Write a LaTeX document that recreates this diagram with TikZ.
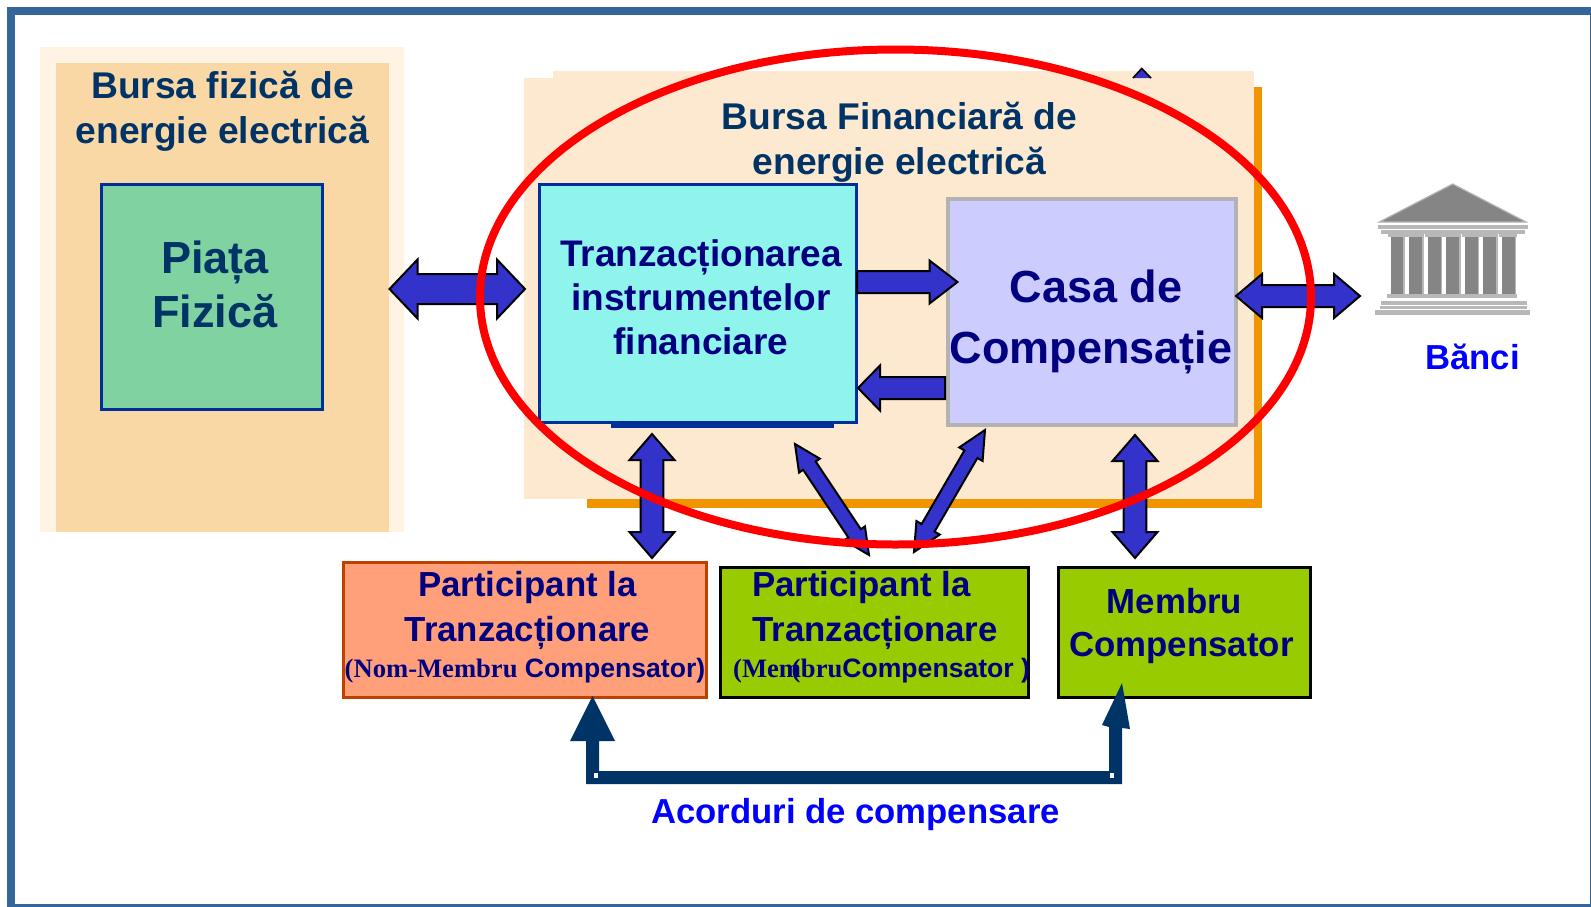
\documentclass[tikz,border=0pt]{standalone}
\usepackage{fontspec}
\setmainfont{Liberation Sans}
\newfontfamily\timesf{Liberation Serif}
\usetikzlibrary{calc}
\definecolor{framec}{HTML}{336699}
\definecolor{beigeA}{HTML}{FFF3E3}
\definecolor{beigeB}{HTML}{FAD8A5}
\definecolor{beigeC}{HTML}{FDE9CF}
\definecolor{orangeC}{HTML}{F09400}
\definecolor{greenA}{HTML}{80D2A0}
\definecolor{edgeB}{HTML}{002E9B}
\definecolor{turq}{HTML}{8FF5EC}
\definecolor{lav}{HTML}{CCCCFF}
\definecolor{greyE}{HTML}{B2B2B2}
\definecolor{salmon}{HTML}{FFA07A}
\definecolor{salmonE}{HTML}{C04000}
\definecolor{lime}{HTML}{99CC00}
\definecolor{navyT}{HTML}{000080}
\definecolor{deep}{HTML}{003366}
\definecolor{arrowB}{HTML}{3333CC}
\definecolor{pillar}{HTML}{858585}
\definecolor{pale}{HTML}{B8B8B8}
\tikzset{
  panel/.style={inner sep=0pt,outer sep=0pt,anchor=north west},
  boxA/.style={panel,draw=edgeB,line width=3pt},
  blockarrow/.style={fill=arrowB,draw=black,line width=2pt,line join=miter},
  txtdeep/.style={text=deep,font=\bfseries\fontsize{37.2}{45}\selectfont,align=center,anchor=base,inner sep=0pt},
  txtnavy/.style={text=navyT,font=\bfseries\fontsize{34.8}{45}\selectfont,align=center,anchor=base,inner sep=0pt},
  txtsmall/.style={text=navyT,font=\bfseries\fontsize{26.6}{30}\selectfont,anchor=base,inner sep=0pt},
  txtblue/.style={text=blue,font=\bfseries\fontsize{34.7}{40}\selectfont,anchor=base,inner sep=0pt},
  bankbar/.style={fill=pale,draw=none},
  bankcol/.style={fill=pillar,draw=none}
}
\newcommand{\dblarrow}[5]{%
  \draw[blockarrow] (#1)
   -- ($(#1)!#3pt!(#2)!#4pt!90:(#2)$) -- ($(#1)!#3pt!(#2)!#5pt!90:(#2)$)
   -- ($(#2)!#3pt!(#1)!#5pt!-90:(#1)$) -- ($(#2)!#3pt!(#1)!#4pt!-90:(#1)$)
   -- (#2)
   -- ($(#2)!#3pt!(#1)!#4pt!90:(#1)$) -- ($(#2)!#3pt!(#1)!#5pt!90:(#1)$)
   -- ($(#1)!#3pt!(#2)!#5pt!-90:(#2)$) -- ($(#1)!#3pt!(#2)!#4pt!-90:(#2)$)
   -- cycle;}
\newcommand{\sglarrow}[5]{%
  \draw[blockarrow] (#1)
   -- ($(#1)!#3pt!(#2)!#4pt!90:(#2)$) -- ($(#1)!#3pt!(#2)!#5pt!90:(#2)$)
   -- ($(#2)!#5pt!-90:(#1)$) -- ($(#2)!#5pt!90:(#1)$)
   -- ($(#1)!#3pt!(#2)!#5pt!-90:(#2)$) -- ($(#1)!#3pt!(#2)!#4pt!-90:(#2)$)
   -- cycle;}
\begin{document}
\begin{tikzpicture}[x=1pt,y=-1pt]
\useasboundingbox (0,0) rectangle (1591,906);
\clip (0,0) rectangle (1591,906);
\fill[white] (0,0) rectangle (1591,906);
\draw[framec,line width=8pt] (11,11) rectangle (1593.5,907.5);
% left panel
\node[panel,fill=beigeA,minimum width=364pt,minimum height=485pt] (fizOuter) at (40,47) {};
\node[panel,fill=beigeB,minimum width=333pt,minimum height=469pt] (fizInner) at (56,63) {};
\node[txtdeep] (fizT) at (222.5,143) {Bursa fizică de\\energie electrică};
\node[boxA,fill=greenA,minimum width=221pt,minimum height=225pt] (piata) at (101.5,184.5) {};
\node[txtdeep,font=\bfseries\fontsize{45}{54}\selectfont] (piataT) at (215,327) {Piața\\Fizică};
% financial panel
\fill[orangeC] (587,87) rectangle (1262,508);
\fill[beigeC] (524,78) rectangle (1254,499);
\fill[beigeC] (553,71) rectangle (1254,100);
\fill[white] (524,499) rectangle (587,510);
\coordinate (topTipL) at (1133,78);
\coordinate (topTip) at (1141.7,68.5);
\coordinate (topTipR) at (1151,78);
\draw[fill=arrowB,draw=black,line width=1.6pt] (topTipL) -- (topTip) -- (topTipR);
\node[txtdeep] (finT) at (899.5,174) {Bursa Financiară de\\energie electrică};
\fill[edgeB] (611,423) rectangle (834,428);
\node[boxA,fill=turq,minimum width=317pt,minimum height=238pt] (tranz) at (539.5,184.5) {};
\node[txtnavy,font=\bfseries\fontsize{37}{44}\selectfont,align=center] (tranzT) at (701,354.5) {Tranzacționarea\\instrumentelor\\financiare};
\node[panel,draw=greyE,line width=4pt,fill=lav,minimum width=288pt,minimum height=226pt] (casa) at (948,199) {};
\node[txtnavy,font=\bfseries\fontsize{45}{61}\selectfont] (casaT) at (1091,363) {\hspace*{10pt}Casa de\\Compensație};
% lower boxes
\node[panel,draw=salmonE,line width=3pt,fill=salmon,minimum width=363pt,minimum height=135pt] (partA) at (343.5,562.5) {};
\node[panel,draw=black,line width=3pt,fill=lime,minimum width=308pt,minimum height=130pt] (partB) at (720.5,567.5) {};
\node[panel,draw=black,line width=3pt,fill=lime,minimum width=252pt,minimum height=130pt] (memb) at (1058.5,567.5) {};
\node[txtnavy] (partAT) at (527.5,641) {Participant la\\Tranzacționare};
\node[txtsmall] (partAS) at (525,677) {{\timesf (Nom-Membru} Compensator)};
\node[txtnavy,align=left,anchor=base west] (partBT) at (752,641) {Participant la\\Tranzacționare};
\node[txtsmall,anchor=base west] (partBS) at (733,677) {{\timesf (Mem\kern-9.5pt(\kern0.5pt bru}Compensator )};
\node[txtnavy,anchor=base] (membA) at (1174.5,613) {Membru};
\node[txtnavy,anchor=base] (membB) at (1181.5,656) {Compensator};
% bank
\fill[pillar,draw=greyE,line width=1.2pt] (1452.7,184) -- (1526,222) -- (1379.3,222) -- cycle;
\fill[bankbar] (1378,225) rectangle (1528,229);
\fill[bankbar] (1381,230) rectangle (1525,233.5);
\foreach \i in {0,...,6}{
  \fill[bankbar] ({1387.5+18.55*\i},234) rectangle ({1405.5+18.55*\i},237);
  \fill[bankcol] ({1390.7+18.55*\i},237) rectangle ({1403.4+18.55*\i},294);
  \fill[bankbar] ({1403.4+18.55*\i},237) rectangle ({1405+18.55*\i},294);
}
\fill[bankbar] (1387,294) rectangle (1517,298);
\fill[bankbar] (1381,300.5) rectangle (1527,305);
\fill[bankbar] (1380,305.8) rectangle (1527,308.5);
\fill[bankbar] (1375,310) rectangle (1530,314.5);
\node[txtblue] (banci) at (1472.5,369.5) {Bănci};
% block arrows
\coordinate (a1L) at (389.5,289);  \coordinate (a1R) at (525,289);
\dblarrow{a1L}{a1R}{28}{29.5}{15}
\coordinate (a2L) at (857,282);  \coordinate (a2R) at (957.5,282);
\sglarrow{a2R}{a2L}{28}{21.5}{11}
\coordinate (a3L) at (858,388);  \coordinate (a3R) at (945,388);
\sglarrow{a3L}{a3R}{22}{22.5}{11}
\coordinate (a4L) at (1236,296); \coordinate (a4R) at (1360,296);
\dblarrow{a4L}{a4R}{26}{22}{11}
\coordinate (a5T) at (652,434);  \coordinate (a5B) at (652,558);
\dblarrow{a5T}{a5B}{26}{22.5}{11.3}
\coordinate (a6T) at (795,444);  \coordinate (a6B) at (869,555);
\dblarrow{a6T}{a6B}{26}{12.5}{7.5}
\coordinate (a7T) at (985,430);  \coordinate (a7B) at (914,552);
\dblarrow{a7T}{a7B}{28}{13.5}{7.5}
\coordinate (a8T) at (1135,435); \coordinate (a8B) at (1135,558);
\dblarrow{a8T}{a8B}{26}{22.5}{11.3}
% agreement arrow
\coordinate (acL) at (592.5,696);
\coordinate (acR) at (1122,683);
\fill[deep] (acL) -- (615,741) -- (599,741) -- (599,771) -- (1109,771) -- (1109,727)
  -- (1102,725) -- (acR) -- (1130,729) -- (1122,728) -- (1122,784) -- (586,784) -- (586,741) -- (570,741) -- cycle;
\fill[white] (594,773) rectangle (598,777.5);
\fill[white] (1110,773) rectangle (1114,777.5);
\node[txtblue] (acord) at (855.5,823) {Acorduri de compensare};
% red ellipse
\draw[red,line width=8pt] (895.5,297) ellipse [x radius=415.5,y radius=247.5];
\end{tikzpicture}
\end{document}
